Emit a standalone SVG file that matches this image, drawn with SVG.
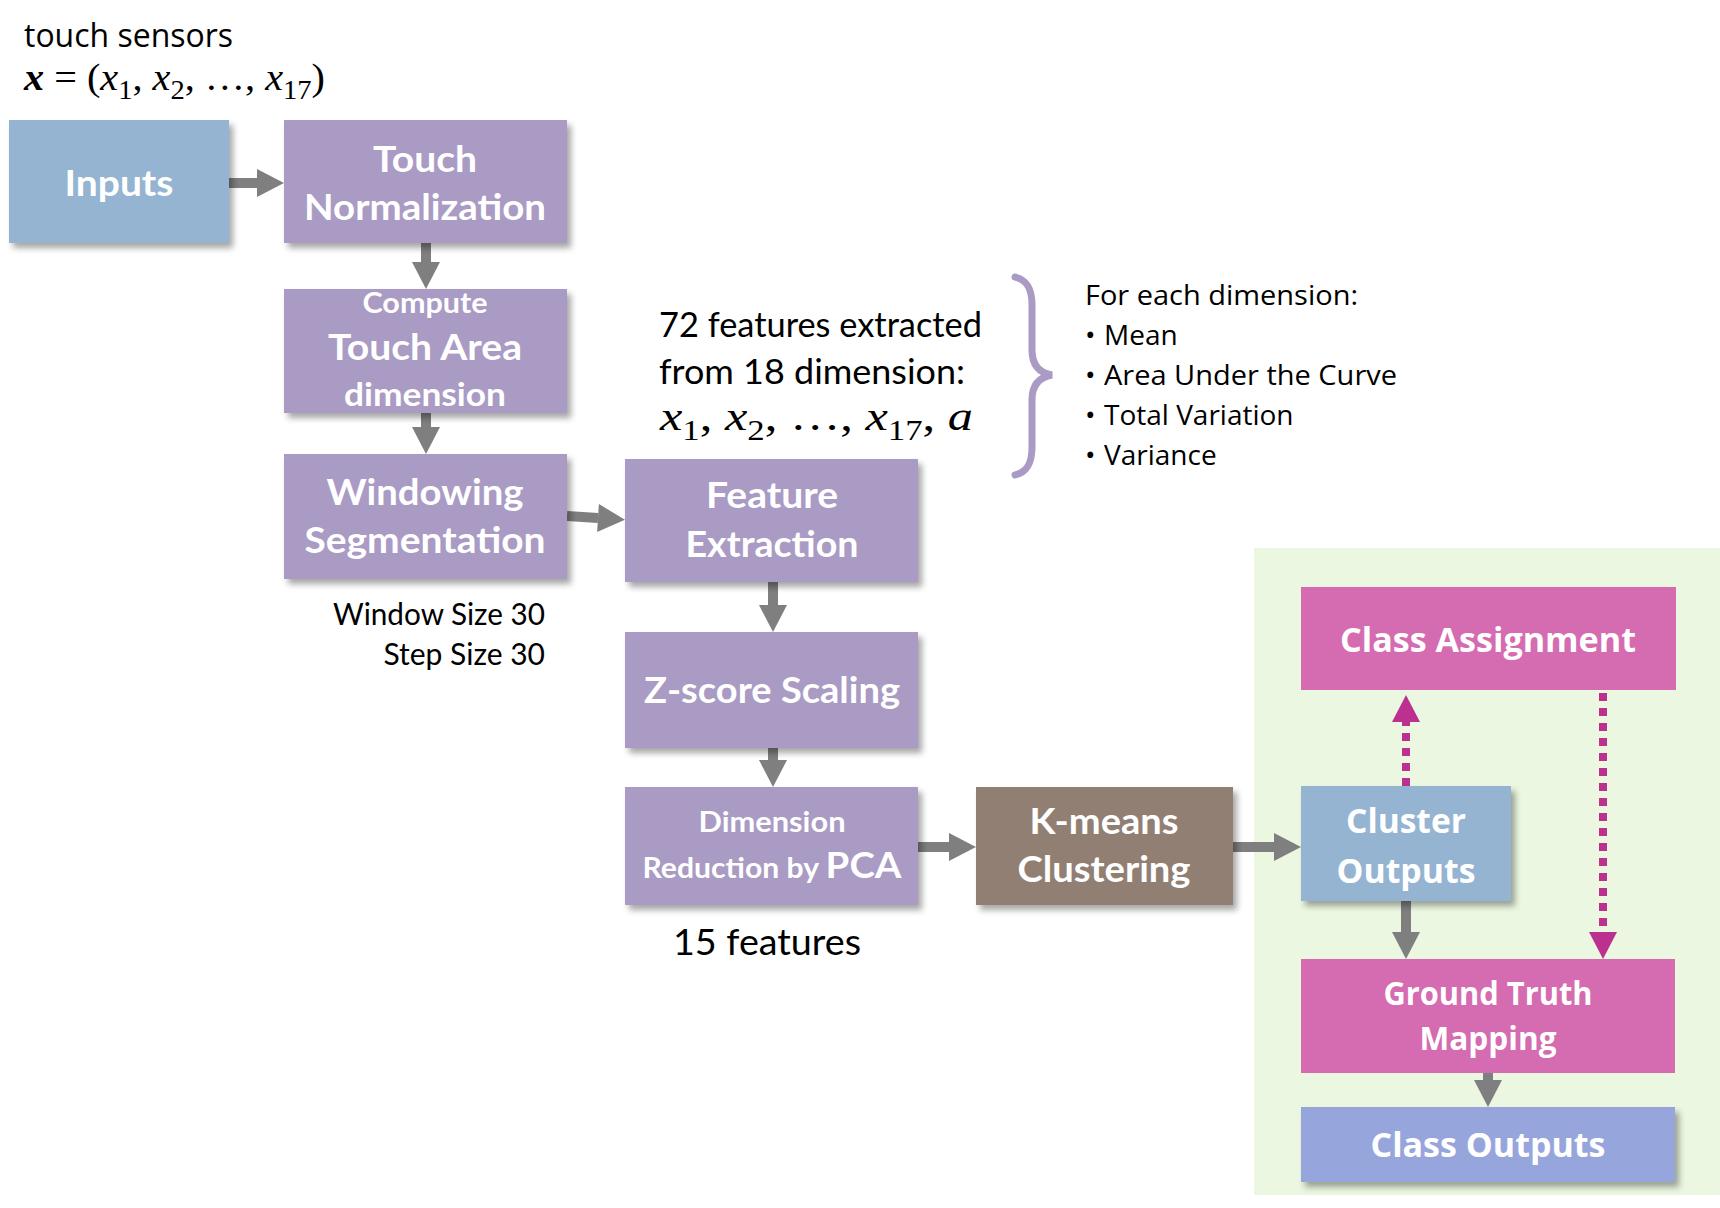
<svg xmlns="http://www.w3.org/2000/svg" width="1720" height="1208" viewBox="0 0 1720 1208">
  <style>
    .lbl { font-family: Lato, "Open Sans", sans-serif; font-weight: 700; fill: #ffffff; text-anchor: middle; }
    .lbl2 { font-family: "Open Sans", "Noto Sans", sans-serif; font-weight: 700; fill: #ffffff; text-anchor: middle; }
    .note { font-family: Lato, "Liberation Sans", sans-serif; fill: #000000; }
    .seg { font-family: "Open Sans", "Noto Sans", sans-serif; fill: #000000; }
    .math { font-family: "Liberation Serif", "DejaVu Serif", serif; fill: #000000; }
    .purple { fill: #A99BC4; }
    .blue { fill: #94B4D2; }
    .brown { fill: #927F73; }
    .pink { fill: #D56BB0; }
    .lav { fill: #97A5DD; }
    .conn { stroke: #7F7F7F; stroke-width: 10; fill: none; }
    .dots { stroke: #BC3090; stroke-width: 8; stroke-dasharray: 8 7; fill: none; }
  </style>
  <defs>
    <filter id="shadow" x="-10%" y="-10%" width="130%" height="140%">
      <feDropShadow dx="4" dy="5" stdDeviation="3" flood-color="#000000" flood-opacity="0.35"/>
    </filter>
    <marker id="head-gray" markerUnits="userSpaceOnUse" markerWidth="27" markerHeight="28" refX="0" refY="14" orient="auto" overflow="visible">
      <path d="M0,0 L27,14 L0,28 Z" fill="#7F7F7F"/>
    </marker>
    <marker id="head-magenta" markerUnits="userSpaceOnUse" markerWidth="27" markerHeight="28" refX="0" refY="14" orient="auto" overflow="visible">
      <path d="M0,0 L27,14 L0,28 Z" fill="#BC3090"/>
    </marker>
  </defs>

  <rect width="1720" height="1208" fill="#ffffff"/>

  <!-- evaluation panel -->
  <rect id="eval-panel" x="1254" y="548" width="466" height="647" fill="#EBF7E1"/>

  <!-- free-standing annotations -->
  <g id="annotations">
    <text class="seg" x="24" y="47" font-size="32" textLength="209" lengthAdjust="spacingAndGlyphs">touch sensors</text>
    <text class="math" x="24" y="90" font-size="38" textLength="301" lengthAdjust="spacingAndGlyphs"><tspan font-weight="bold" font-style="italic">x</tspan><tspan> = (</tspan><tspan font-style="italic">x</tspan><tspan font-size="27" dy="9">1</tspan><tspan dy="-9">, </tspan><tspan font-style="italic">x</tspan><tspan font-size="27" dy="9">2</tspan><tspan dy="-9">, …, </tspan><tspan font-style="italic">x</tspan><tspan font-size="27" dy="9">17</tspan><tspan dy="-9">)</tspan></text>

    <text class="note" x="659" y="337" font-size="34" textLength="323" lengthAdjust="spacingAndGlyphs">72 features extracted</text>
    <text class="note" x="659" y="384" font-size="34" textLength="306" lengthAdjust="spacingAndGlyphs">from 18 dimension:</text>
    <text class="math" x="660" y="430" font-size="42" textLength="313" lengthAdjust="spacingAndGlyphs"><tspan font-style="italic">x</tspan><tspan font-size="29" dy="10">1</tspan><tspan dy="-10">, </tspan><tspan font-style="italic">x</tspan><tspan font-size="29" dy="10">2</tspan><tspan dy="-10">, …, </tspan><tspan font-style="italic">x</tspan><tspan font-size="29" dy="10">17</tspan><tspan dy="-10">, </tspan><tspan font-style="italic">a</tspan></text>

    <path id="brace" d="M1015,277 C1028,280 1032,290 1032,305 L1032,350 C1032,366 1040,373 1052,375 C1040,377 1032,384 1032,400 L1032,447 C1032,462 1028,472 1015,475" fill="none" stroke="#A99BC4" stroke-width="7" stroke-linecap="round"/>

    <text class="seg" x="1085" y="305" font-size="28" textLength="273" lengthAdjust="spacingAndGlyphs">For each dimension:</text>
    <text class="seg" x="1085" y="345" font-size="28">•<tspan x="1104">Mean</tspan></text>
    <text class="seg" x="1085" y="385" font-size="28">•<tspan x="1104" textLength="293" lengthAdjust="spacingAndGlyphs">Area Under the Curve</tspan></text>
    <text class="seg" x="1085" y="425" font-size="28">•<tspan x="1104">Total Variation</tspan></text>
    <text class="seg" x="1085" y="465" font-size="28">•<tspan x="1104">Variance</tspan></text>

    <text class="note" x="545" y="625" font-size="30" text-anchor="end" textLength="212" lengthAdjust="spacingAndGlyphs">Window Size 30</text>
    <text class="note" x="545" y="665" font-size="30" text-anchor="end">Step Size 30</text>

    <text class="note" x="673" y="955" font-size="37" textLength="188" lengthAdjust="spacingAndGlyphs">15 features</text>
  </g>

  <!-- connectors -->
  <g id="connectors">
    <line class="conn" x1="229" y1="183" x2="257" y2="183" marker-end="url(#head-gray)"/>
    <line class="conn" x1="426" y1="243" x2="426" y2="262" marker-end="url(#head-gray)"/>
    <line class="conn" x1="426" y1="413" x2="426" y2="427" marker-end="url(#head-gray)"/>
    <line class="conn" x1="567" y1="516" x2="598" y2="518" marker-end="url(#head-gray)"/>
    <line class="conn" x1="773" y1="582" x2="773" y2="605" marker-end="url(#head-gray)"/>
    <line class="conn" x1="773" y1="748" x2="773" y2="760" marker-end="url(#head-gray)"/>
    <line class="conn" x1="918" y1="847" x2="949" y2="847" marker-end="url(#head-gray)"/>
    <line class="conn" x1="1233" y1="847" x2="1274" y2="847" marker-end="url(#head-gray)"/>
    <line class="conn" x1="1406" y1="901" x2="1406" y2="932" marker-end="url(#head-gray)"/>
    <line class="conn" x1="1488" y1="1073" x2="1488" y2="1080" marker-end="url(#head-gray)"/>
    <line class="dots" x1="1406" y1="786" x2="1406" y2="722" marker-end="url(#head-magenta)"/>
    <line class="dots" x1="1603" y1="693" x2="1603" y2="932" marker-end="url(#head-magenta)"/>
  </g>

  <!-- processing nodes -->
  <g id="inputs">
    <rect class="blue" x="9" y="120" width="220" height="123" filter="url(#shadow)"/>
    <text class="lbl" x="119" y="196" font-size="37" textLength="109" lengthAdjust="spacingAndGlyphs">Inputs</text>
  </g>
  <g id="touch-normalization">
    <rect class="purple" x="284" y="120" width="283" height="123" filter="url(#shadow)"/>
    <text class="lbl" x="425" y="172" font-size="37" textLength="104" lengthAdjust="spacingAndGlyphs">Touch</text>
    <text class="lbl" x="425" y="220" font-size="37" textLength="242" lengthAdjust="spacingAndGlyphs">Normalization</text>
  </g>
  <g id="touch-area">
    <rect class="purple" x="284" y="289" width="283" height="124" filter="url(#shadow)"/>
    <text class="lbl" x="425" y="313" font-size="29" textLength="125" lengthAdjust="spacingAndGlyphs">Compute</text>
    <text class="lbl" x="425" y="360" font-size="37" textLength="194" lengthAdjust="spacingAndGlyphs">Touch Area</text>
    <text class="lbl" x="425" y="406" font-size="33" textLength="162" lengthAdjust="spacingAndGlyphs">dimension</text>
  </g>
  <g id="windowing">
    <rect class="purple" x="284" y="454" width="283" height="125" filter="url(#shadow)"/>
    <text class="lbl" x="425" y="505" font-size="37" textLength="197" lengthAdjust="spacingAndGlyphs">Windowing</text>
    <text class="lbl" x="425" y="553" font-size="37" textLength="241" lengthAdjust="spacingAndGlyphs">Segmentation</text>
  </g>
  <g id="feature-extraction">
    <rect class="purple" x="625" y="459" width="293" height="123" filter="url(#shadow)"/>
    <text class="lbl" x="772" y="508" font-size="37" textLength="132" lengthAdjust="spacingAndGlyphs">Feature</text>
    <text class="lbl" x="772" y="557" font-size="37" textLength="173" lengthAdjust="spacingAndGlyphs">Extraction</text>
  </g>
  <g id="zscore">
    <rect class="purple" x="625" y="632" width="293" height="116" filter="url(#shadow)"/>
    <text class="lbl" x="772" y="703" font-size="37" textLength="256" lengthAdjust="spacingAndGlyphs">Z-score Scaling</text>
  </g>
  <g id="pca">
    <rect class="purple" x="625" y="787" width="293" height="118" filter="url(#shadow)"/>
    <text class="lbl" x="772" y="832" font-size="29" textLength="147" lengthAdjust="spacingAndGlyphs">Dimension</text>
    <text class="lbl" x="772" y="878" font-size="29" textLength="259" lengthAdjust="spacingAndGlyphs">Reduction by <tspan font-size="37">PCA</tspan></text>
  </g>
  <g id="kmeans">
    <rect class="brown" x="976" y="787" width="257" height="118" filter="url(#shadow)"/>
    <text class="lbl" x="1104" y="834" font-size="37" textLength="149" lengthAdjust="spacingAndGlyphs">K-means</text>
    <text class="lbl" x="1104" y="882" font-size="37" textLength="173" lengthAdjust="spacingAndGlyphs">Clustering</text>
  </g>

  <!-- evaluation nodes -->
  <g id="class-assignment">
    <rect class="pink" x="1301" y="587" width="375" height="103"/>
    <text class="lbl2" x="1488" y="652" font-size="34" textLength="296" lengthAdjust="spacingAndGlyphs">Class Assignment</text>
  </g>
  <g id="cluster-outputs">
    <rect class="blue" x="1301" y="786" width="210" height="115" filter="url(#shadow)"/>
    <text class="lbl2" x="1406" y="833" font-size="34" textLength="120" lengthAdjust="spacingAndGlyphs">Cluster</text>
    <text class="lbl2" x="1406" y="883" font-size="34" textLength="139" lengthAdjust="spacingAndGlyphs">Outputs</text>
  </g>
  <g id="ground-truth">
    <rect class="pink" x="1301" y="959" width="374" height="114"/>
    <text class="lbl2" x="1488" y="1005" font-size="32" textLength="209" lengthAdjust="spacingAndGlyphs">Ground Truth</text>
    <text class="lbl2" x="1488" y="1050" font-size="32" textLength="137" lengthAdjust="spacingAndGlyphs">Mapping</text>
  </g>
  <g id="class-outputs">
    <rect class="lav" x="1301" y="1107" width="374" height="75" filter="url(#shadow)"/>
    <text class="lbl2" x="1488" y="1157" font-size="34" textLength="235" lengthAdjust="spacingAndGlyphs">Class Outputs</text>
  </g>
</svg>
